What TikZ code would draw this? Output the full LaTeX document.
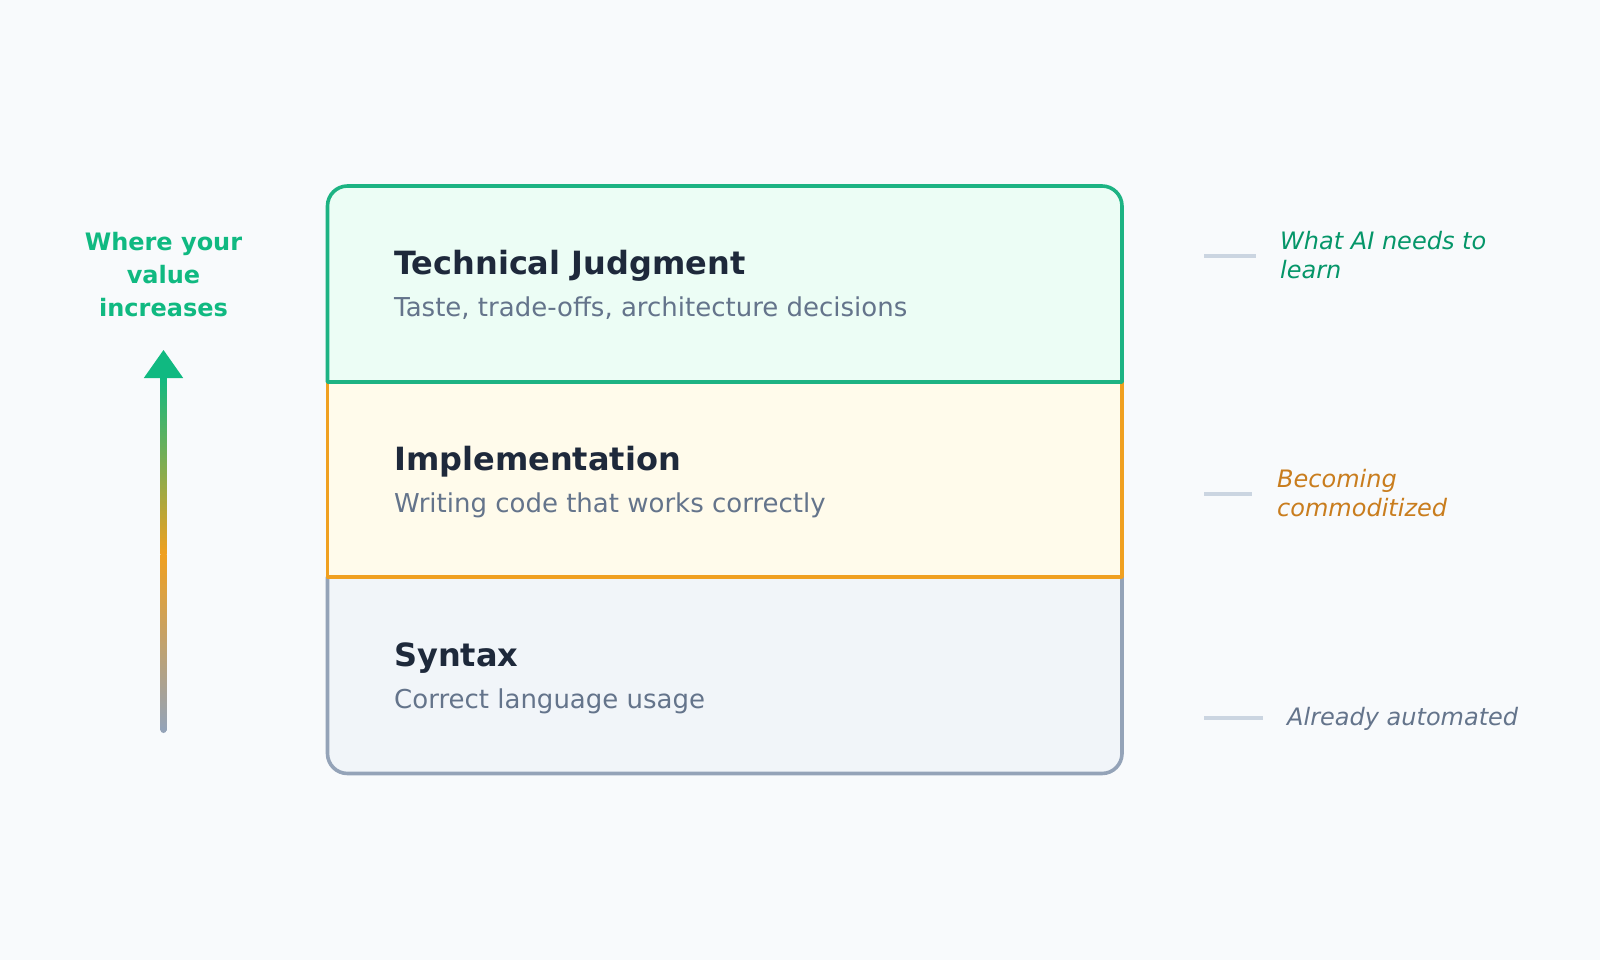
\documentclass[tikz,border=0pt]{standalone}
\usepackage{fontspec}
\setmainfont{DejaVu Sans}
\definecolor{bg}{HTML}{F8FAFC}
\definecolor{grn}{HTML}{10B981}
\definecolor{grnline}{HTML}{1DB383}
\definecolor{grndark}{HTML}{059669}
\definecolor{grnfill}{HTML}{ECFDF5}
\definecolor{amb}{HTML}{F0A020}
\definecolor{ambdark}{HTML}{C97D1E}
\definecolor{ambfill}{HTML}{FFFBEB}
\definecolor{sgray}{HTML}{94A3B8}
\definecolor{sfill}{HTML}{F1F5F9}
\definecolor{dark}{HTML}{1E293B}
\definecolor{muted}{HTML}{64748B}
\definecolor{dash}{HTML}{CBD5E1}
\tikzset{
  layer/.style={line width=3.6pt, line join=round},
  ttl/.style={anchor=base west, inner sep=0pt, text=dark, font=\fontsize{32}{38}\selectfont\bfseries},
  sub/.style={anchor=base west, inner sep=0pt, text=muted, font=\fontsize{26}{31}\selectfont},
  side/.style={anchor=base west, inner sep=0pt, align=left, font=\fontsize{24}{28.5}\selectfont\itshape},
  tick/.style={draw=dash, line width=4pt},
}
\begin{document}
\begin{tikzpicture}[x=1pt,y=1pt]
\useasboundingbox[fill=bg] (0,0) rectangle (1600,-960);
% layers: bottom, middle, top
\draw[layer, draw=sgray, fill=sfill] (327.5,-577) -- (327.5,-753.5) arc[start angle=180,end angle=270,radius=20] -- (1102,-773.5) arc[start angle=270,end angle=360,radius=20] -- (1122,-577) -- cycle;
\draw[layer, draw=amb, fill=ambfill] (327.5,-382) rectangle (1122,-577);
\draw[layer, draw=grnline, fill=grnfill] (327.5,-382) -- (327.5,-206) arc[start angle=180,end angle=90,radius=20] -- (1102,-186) arc[start angle=90,end angle=0,radius=20] -- (1122,-382) -- cycle;
% texts
\node[ttl] (t1) at (394,-274) {Technical Judgment};
\node[sub] (s1) at (394,-316) {Taste, trade-offs, architecture decisions};
\node[ttl] (t2) at (394,-470) {Implementation};
\node[sub] (s2) at (394,-512) {Writing code that works correctly};
\node[ttl] (t3) at (394,-666) {Syntax};
\node[sub] (s3) at (394,-708) {Correct language usage};
% left label
\node[anchor=base, inner sep=0pt, align=center, text=grn, font=\fontsize{24}{33}\selectfont\bfseries] (lbl) at (163.5,-316.5) {Where your\\value\\increases};
% gradient arrow
\coordinate (abot) at (163.5,-730);
\coordinate (amid) at (163.5,-554);
\coordinate (atop) at (163.5,-377);
\coordinate (atip) at (163.5,-350);
\shade[top color=grn, bottom color=amb] (160.5,-377) rectangle (166.5,-554);
\shade[top color=amb, bottom color=sgray] (160.5,-554) rectangle (166.5,-730);
\fill[sgray] (abot) circle (3);
\fill[grn] (atip) -- (143.8,-378) -- (183.2,-378) -- cycle;
% right labels
\coordinate (d1a) at (1204,-256); \coordinate (d1b) at (1256,-256);
\draw[tick] (d1a) -- (d1b);
\node[side, text=grndark] (r1) at (1280,-278) {What AI needs to\\learn};
\coordinate (d2a) at (1204,-494); \coordinate (d2b) at (1252,-494);
\draw[tick] (d2a) -- (d2b);
\node[side, text=ambdark] (r2) at (1277,-516) {Becoming\\commoditized};
\coordinate (d3a) at (1204,-718); \coordinate (d3b) at (1263,-718);
\draw[tick] (d3a) -- (d3b);
\node[side, text=muted] (r3) at (1287,-725) {Already automated};
\end{tikzpicture}
\end{document}
